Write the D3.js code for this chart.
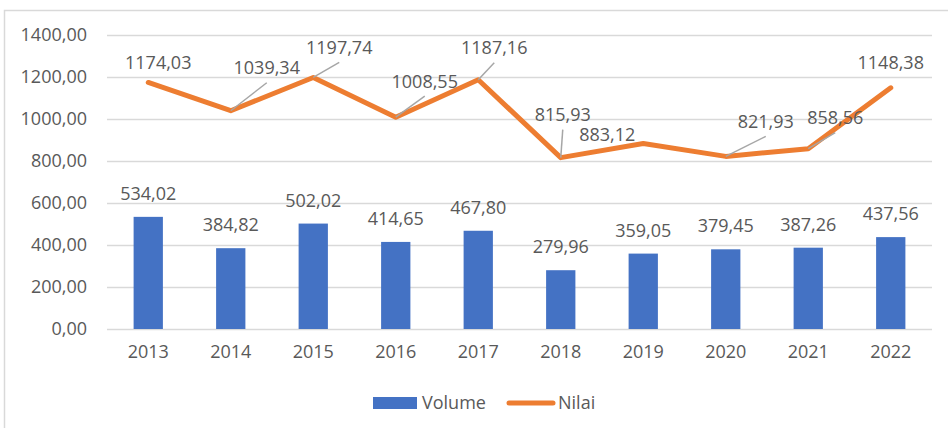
<!DOCTYPE html>
<html>
<head>
<meta charset="utf-8">
<script src="https://cdn.jsdelivr.net/npm/d3@7"></script>
<style>
  html, body { margin: 0; padding: 0; background: #fff; }
  text { font-family: "Open Sans", "Noto Sans", sans-serif; fill: #595959; }
</style>
</head>
<body>
<div id="chart"></div>
<script>
// data
const years = ["2013", "2014", "2015", "2016", "2017", "2018", "2019", "2020", "2021", "2022"]
const volume = [534.02, 384.82, 502.02, 414.65, 467.80, 279.96, 359.05, 379.45, 387.26, 437.56]
const nilai = [1174.03, 1039.34, 1197.74, 1008.55, 1187.16, 815.93, 883.12, 821.93, 858.56, 1148.38]
const yTicks = [0, 200, 400, 600, 800, 1000, 1200, 1400]

// manual label placement for the Nilai series (dx, dy from the point, leader line?)
const nilaiLabelOffsets = [
  [10, -20, false], [36, -43, true], [26, -30, true], [29, -36, true], [16, -32, true],
  [2, -43, true], [-36, -9, false], [40, -35, true], [27, -31, true], [0, -25, false],
]

const width = 948
const height = 428
const margin = { top: 35, right: 16, bottom: 99, left: 107 }
const fontSize = 18

const fmt = (v) => v.toFixed(2).replace(".", ",")

const svg = d3
  .select("#chart")
  .append("svg")
  .attr("width", width)
  .attr("height", height)

// chart frame
svg.append("path")
  .attr("d", `M4.5,${height} V10.5 H${width}`)
  .attr("fill", "none")
  .attr("stroke", "#d9d9d9")
  .attr("stroke-width", 1.5)

const x = d3
  .scaleBand()
  .domain(years)
  .range([margin.left, width - margin.right])
  .paddingInner(0.645)
  .paddingOuter(0.3225)

const xc = d3
  .scaleBand()
  .domain(years)
  .range([margin.left, width - margin.right])

const y = d3
  .scaleLinear()
  .domain([0, 1400])
  .range([height - margin.bottom, margin.top])

/*
 * gridlines + y axis
 */
const yAxis = svg
  .append("g")
  .attr("transform", `translate(${margin.left},0)`)
  .call(
    d3.axisLeft(y)
      .tickValues(yTicks)
      .tickFormat(fmt)
      .tickSize(-(width - margin.right - margin.left))
      .tickPadding(20)
  )
yAxis.select(".domain").remove()
yAxis.selectAll(".tick line").attr("stroke", "#d9d9d9").attr("stroke-width", 1.5)
yAxis.selectAll(".tick text")
  .attr("font-size", fontSize)
  .style("font-family", "'Open Sans', sans-serif")
  .attr("fill", "#595959")

/*
 * x axis
 */
const xAxis = svg
  .append("g")
  .attr("transform", `translate(0,${y(0)})`)
  .call(d3.axisBottom(xc).tickSize(0).tickPadding(16))
xAxis.select(".domain").remove()
xAxis.selectAll(".tick text")
  .attr("font-size", fontSize)
  .style("font-family", "'Open Sans', sans-serif")
  .attr("fill", "#595959")

/*
 * bars
 */
svg.append("g")
  .selectAll("rect")
  .data(volume)
  .join("rect")
  .attr("x", (d, i) => x(years[i]))
  .attr("width", x.bandwidth())
  .attr("y", (d) => y(d))
  .attr("height", (d) => y(0) - y(d))
  .attr("fill", "#4472c4")

svg.append("g")
  .selectAll("text")
  .data(volume)
  .join("text")
  .attr("x", (d, i) => xc(years[i]) + xc.bandwidth() / 2)
  .attr("y", (d) => y(d) - 17)
  .attr("text-anchor", "middle")
  .attr("font-size", fontSize)
  .text(fmt)

/*
 * line
 */
const px = (i) => xc(years[i]) + xc.bandwidth() / 2

const line = d3
  .line()
  .x((d, i) => px(i))
  .y((d) => y(d))

svg.append("path")
  .datum(nilai)
  .attr("d", line)
  .attr("fill", "none")
  .attr("stroke", "#ed7d31")
  .attr("stroke-width", 5)
  .attr("stroke-linejoin", "round")
  .attr("stroke-linecap", "round")

// leader lines
const leaders = svg.append("g")
nilai.forEach((d, i) => {
  const [dx, dy, hasLeader] = nilaiLabelOffsets[i]
  if (!hasLeader) return
  const x0 = px(i)
  const y0 = y(d)
  const x1 = x0 + dx
  const y1 = y0 + dy + 15
  leaders.append("line")
    .attr("x1", x0)
    .attr("y1", y0)
    .attr("x2", x1)
    .attr("y2", Math.min(y1, y0 - 4))
    .attr("stroke", "#a6a6a6")
    .attr("stroke-width", 1.5)
})

svg.append("g")
  .selectAll("text")
  .data(nilai)
  .join("text")
  .attr("x", (d, i) => px(i) + nilaiLabelOffsets[i][0])
  .attr("y", (d, i) => y(d) + nilaiLabelOffsets[i][1])
  .attr("dy", "0.35em")
  .attr("text-anchor", "middle")
  .attr("font-size", fontSize)
  .text(fmt)

/*
 * legend
 */
const legend = svg.append("g").attr("transform", "translate(373,403)")
legend.append("rect")
  .attr("x", 0).attr("y", -6).attr("width", 44).attr("height", 12)
  .attr("fill", "#4472c4")
legend.append("text")
  .attr("x", 49).attr("y", 0).attr("dy", "0.35em")
  .attr("font-size", fontSize)
  .text("Volume")
legend.append("line")
  .attr("x1", 136).attr("x2", 180).attr("y1", 0).attr("y2", 0)
  .attr("stroke", "#ed7d31").attr("stroke-width", 5)
  .attr("stroke-linecap", "round")
legend.append("text")
  .attr("x", 185).attr("y", 0).attr("dy", "0.35em")
  .attr("font-size", fontSize)
  .text("Nilai")
</script>
</body>
</html>
